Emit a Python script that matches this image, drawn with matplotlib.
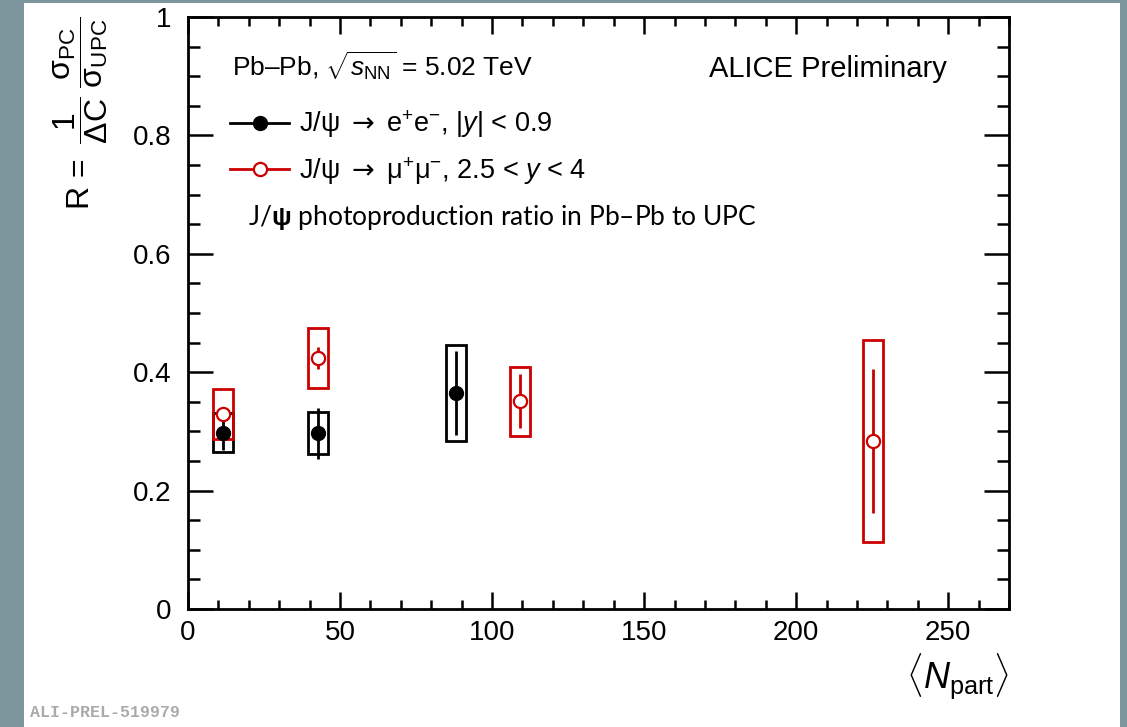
import numpy as np
import matplotlib.pyplot as plt
from matplotlib.patches import Rectangle
from matplotlib.lines import Line2D

plt.rcParams['font.family'] = ['Liberation Sans', 'DejaVu Sans']
plt.rcParams['mathtext.fontset'] = 'custom'
plt.rcParams['mathtext.rm'] = 'Liberation Sans'
plt.rcParams['mathtext.it'] = 'Liberation Sans:italic'
plt.rcParams['mathtext.bf'] = 'Liberation Sans:bold'
plt.rcParams['mathtext.sf'] = 'DejaVu Sans'  # long arrow glyph

# J/psi -> e+e-, |y| < 0.9
npart_ee = [11.5, 42.8, 88.2]
r_ee = [0.298, 0.297, 0.365]
stat_ee = [0.030, 0.043, 0.071]
sys_ee = [0.033, 0.035, 0.081]

# J/psi -> mu+mu-, 2.5 < y < 4
npart_mm = [11.5, 42.8, 109.2, 225.2]
r_mm = [0.329, 0.424, 0.351, 0.284]
stat_mm = [0.010, 0.019, 0.046, 0.121]
sys_mm = [0.042, 0.050, 0.058, 0.170]

xticks = [0, 50, 100, 150, 200, 250]
yticks = [0, 0.2, 0.4, 0.6, 0.8, 1]
ytick_labels = ['0', '0.2', '0.4', '0.6', '0.8', '1']

RED = '#cc0000'
BOX_HW = 3.2

fig = plt.figure(figsize=(11.27, 7.27), dpi=100, facecolor='#7d959d')
fig.patches.append(Rectangle((24 / 1127, 0), 1096 / 1127, 724 / 727,
                             transform=fig.transFigure, facecolor='white',
                             edgecolor='none', zorder=-10))
ax = fig.add_axes([188 / 1127, 118 / 727, 821 / 1127, 592 / 727])

def sys_boxes(x, y, s, color):
    for xi, yi, si in zip(x, y, s):
        ax.add_patch(Rectangle((xi - BOX_HW, yi - si), 2 * BOX_HW, 2 * si,
                               fill=False, edgecolor=color, lw=2, zorder=2))

sys_boxes(npart_ee, r_ee, sys_ee, 'black')
sys_boxes(npart_mm, r_mm, sys_mm, RED)

ax.errorbar(npart_ee, r_ee, yerr=stat_ee, fmt='o', color='black', ms=10,
            elinewidth=2, capsize=0, zorder=3)
ax.errorbar(npart_mm, r_mm, yerr=stat_mm, fmt='o', color=RED, ms=9.5,
            mfc='white', mec=RED, mew=1.6, elinewidth=2, capsize=0, zorder=4)

ax.set_xlim(0, 270)
ax.set_ylim(0, 1)
ax.set_xticks(xticks)
ax.set_xticks(np.arange(0, 271, 10), minor=True)
ax.set_yticks(yticks)
ax.set_yticklabels(ytick_labels)
ax.set_yticks(np.arange(0, 1.001, 0.05), minor=True)
for sp in ax.spines.values():
    sp.set_linewidth(2)
ax.tick_params(axis='both', which='both', direction='in', top=True, right=True,
               width=1.8, labelsize=20)
ax.tick_params(axis='x', which='major', length=12, pad=8)
ax.tick_params(axis='x', which='minor', length=6.5)
ax.tick_params(axis='y', which='major', length=18, pad=12)
ax.tick_params(axis='y', which='minor', length=8.5)

ax.set_ylabel(r'R = $\;\dfrac{1}{\mathrm{\Delta C}}\;\dfrac{\mathrm{\sigma}_{\rm PC}}{\mathrm{\sigma}_{\rm UPC}}$',
              fontsize=23, loc='top')
ax.yaxis.set_label_coords(-0.095, 1.0)
ax.set_xlabel(r'$\langle N_{\rm part}\rangle$', fontsize=26, loc='right')
ax.xaxis.set_label_coords(1.0, -0.072)

ax.text(0.0536, 0.8986, r'Pb–Pb, $\sqrt{s_{\rm NN}}$ = 5.02 TeV', fontsize=19,
        transform=ax.transAxes, va='baseline')
ax.text(0.9245, 0.8986, 'ALICE Preliminary', fontsize=21, ha='right',
        transform=ax.transAxes, va='baseline')
ax.text(0.073, 0.6486, r'J/$\mathbf{\psi}$ photoproduction ratio in Pb–Pb to UPC',
        fontsize=19, family=['Lato', 'DejaVu Sans'],
        transform=ax.transAxes, va='baseline')

handles = [Line2D([], [], color='black', lw=2, marker='o', ms=10),
           Line2D([], [], color=RED, lw=2, marker='o', ms=9.5, mfc='white', mew=1.6)]
labels = [r'J/ψ $\mathsf{\rightarrow}$ e$^{+}$e$^{-}$, |$y$| < 0.9',
          r'J/ψ $\mathsf{\rightarrow}$ μ$^{+}$μ$^{-}$, 2.5 < $y$ < 4']
ax.legend(handles, labels, loc='upper left', bbox_to_anchor=(0.051, 0.845),
          frameon=False, fontsize=19.5, handlelength=2.2, handletextpad=0.37,
          labelspacing=0.54, borderpad=0, borderaxespad=0)

fig.text(30 / 1127, 10 / 727, 'ALI-PREL-519979', fontsize=12, color='#aaaaaa',
         family='Liberation Mono', weight='bold', va='baseline')

fig.savefig('out.png', dpi=100, facecolor=fig.get_facecolor())
